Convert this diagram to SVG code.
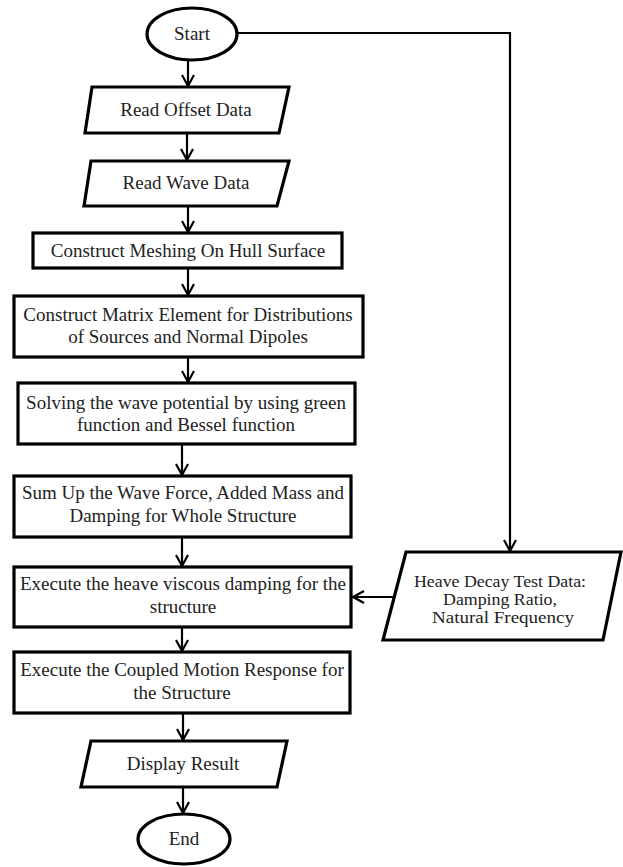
<svg xmlns="http://www.w3.org/2000/svg" width="623" height="867" viewBox="0 0 623 867">
<style>
.s{fill:#fff;stroke:#000;stroke-width:3.2}
.t{font-family:"Liberation Serif","Times New Roman",serif;font-size:19px;fill:#222;text-anchor:middle}
.h{font-size:16px}
.c{fill:none;stroke:#000;stroke-width:2.2}
</style>
<defs>
<marker id="a" markerUnits="userSpaceOnUse" markerWidth="16" markerHeight="16" refX="12" refY="7" orient="auto">
<path d="M1,1 L12,7 L1,13" fill="none" stroke="#000" stroke-width="2.2"/>
</marker>
</defs>
<rect width="623" height="867" fill="#fff"/>
<g id="connectors">
<path class="c" d="M188,60 V86" marker-end="url(#a)"/>
<path class="c" d="M187,133 V160" marker-end="url(#a)"/>
<path class="c" d="M188,206 V232" marker-end="url(#a)"/>
<path class="c" d="M188,268 V295" marker-end="url(#a)"/>
<path class="c" d="M188,357 V382" marker-end="url(#a)"/>
<path class="c" d="M182,444 V475" marker-end="url(#a)"/>
<path class="c" d="M182,537 V566" marker-end="url(#a)"/>
<path class="c" d="M182,627 V651" marker-end="url(#a)"/>
<path class="c" d="M183,713 V740" marker-end="url(#a)"/>
<path class="c" d="M183,787 V813" marker-end="url(#a)"/>
<path class="c" d="M237,33 H510 V551" marker-end="url(#a)"/>
<path class="c" d="M393,597 H353" marker-end="url(#a)"/>
</g>
<g id="start">
<ellipse class="s" cx="192" cy="34" rx="45" ry="26"/>
<text class="t" x="192" y="40">Start</text>
</g>
<g id="read-offset">
<polygon class="s" points="92,87 289,87 279,133 85,133"/>
<text class="t" x="186" y="116">Read Offset Data</text>
</g>
<g id="read-wave">
<polygon class="s" points="91,161 289,161 277,206 84,206"/>
<text class="t" x="186" y="189">Read Wave Data</text>
</g>
<g id="meshing">
<rect class="s" x="33" y="233" width="309" height="35"/>
<text class="t" x="188" y="257">Construct Meshing On Hull Surface</text>
</g>
<g id="matrix">
<rect class="s" x="14" y="296" width="349" height="61"/>
<text class="t" x="188" y="321">Construct Matrix Element for Distributions</text>
<text class="t" x="188" y="343">of Sources and Normal Dipoles</text>
</g>
<g id="solving">
<rect class="s" x="18" y="383" width="337" height="61"/>
<text class="t" x="186" y="409">Solving the wave potential by using green</text>
<text class="t" x="186" y="431">function and Bessel function</text>
</g>
<g id="sumup">
<rect class="s" x="14" y="476" width="337" height="61"/>
<text class="t" x="183" y="499">Sum Up the Wave Force, Added Mass and</text>
<text class="t" x="183" y="522">Damping for Whole Structure</text>
</g>
<g id="viscous">
<rect class="s" x="14" y="567" width="337" height="60"/>
<text class="t" x="183" y="590">Execute the heave viscous damping for the</text>
<text class="t" x="183" y="613">structure</text>
</g>
<g id="coupled">
<rect class="s" x="14" y="652" width="336" height="61"/>
<text class="t" x="182" y="676">Execute the Coupled Motion Response for</text>
<text class="t" x="182" y="699">the Structure</text>
</g>
<g id="display">
<polygon class="s" points="91,741 287,741 277,787 81,787"/>
<text class="t" x="183" y="770">Display Result</text>
</g>
<g id="end">
<ellipse class="s" cx="184" cy="839" rx="46" ry="25"/>
<text class="t" x="184" y="845">End</text>
</g>
<g id="heave">
<polygon class="s" points="406,552 621,552 603,640 383,640"/>
<text class="t h" x="500" y="587" textLength="172" lengthAdjust="spacingAndGlyphs">Heave Decay Test Data:</text>
<text class="t h" x="500" y="605" textLength="114" lengthAdjust="spacingAndGlyphs">Damping Ratio,</text>
<text class="t h" x="503" y="623" textLength="142" lengthAdjust="spacingAndGlyphs">Natural Frequency</text>
</g>
</svg>
